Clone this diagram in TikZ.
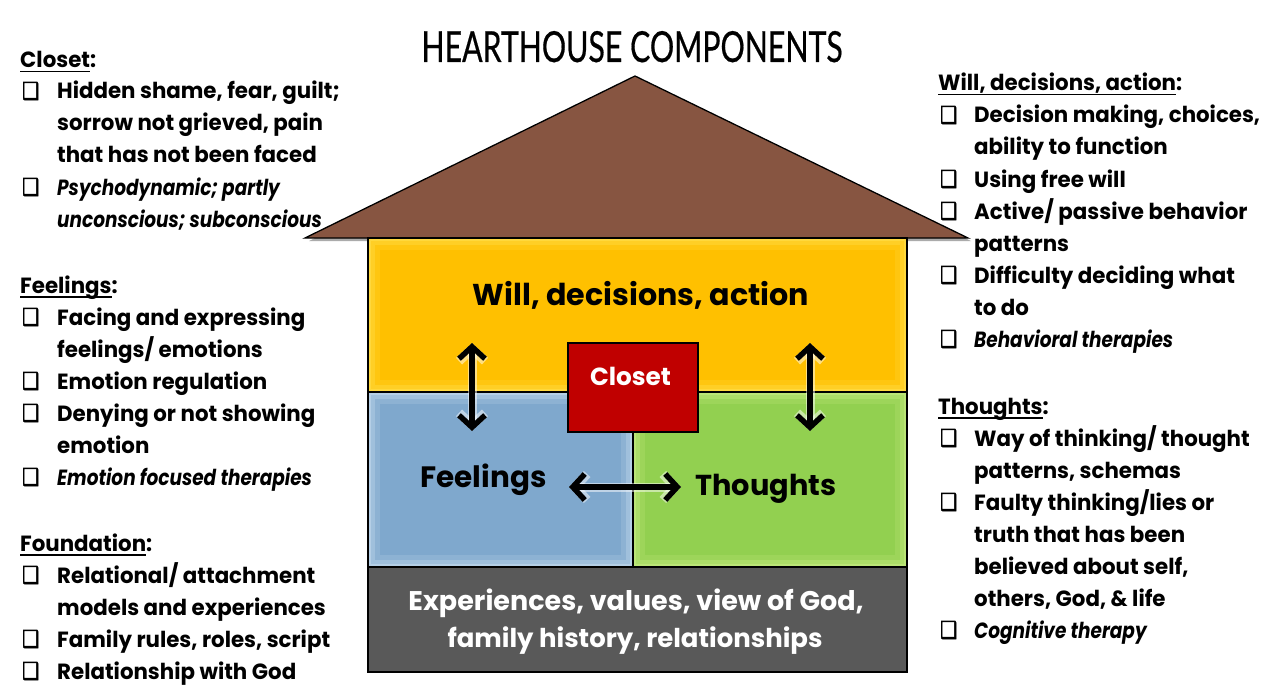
\documentclass[tikz,border=0pt]{standalone}
\usepackage{fontspec}
\setmainfont{Poppins}[FakeStretch=0.97]
\newfontfamily\itfam{Poppins}[FakeStretch=0.84]
\newfontfamily\lblfam{Poppins}
\newfontfamily\titlefont{Lato}[FakeBold=0.6]
\newfontfamily\symfont{DejaVu Sans}[FakeBold=2.5]
\usepackage{graphicx}
\usetikzlibrary{arrows.meta}
\definecolor{roofc}{HTML}{875541}
\definecolor{willc}{HTML}{FFC000}
\definecolor{willg}{HTML}{FFE45A}
\definecolor{feelc}{HTML}{7FA8CD}
\definecolor{feelg}{HTML}{CFE2F3}
\definecolor{thouc}{HTML}{92D050}
\definecolor{thoug}{HTML}{CFF08A}
\definecolor{foundc}{HTML}{595959}
\definecolor{closc}{HTML}{C00000}
\newcommand\bodyfont{\fontsize{22}{32}\selectfont\bfseries}
\newcommand\bodyit{\fontsize{22}{32}\selectfont\itfam\bfseries\itshape}
\newcommand\chkfont{\fontsize{20}{32}\selectfont\symfont}
\newcommand\hul[1]{\setbox0\hbox{#1}\rlap{\rule[-4.5pt]{\wd0}{1.8pt}}\box0}
\newcommand\cbx{\resizebox{17pt}{17pt}{❑}}
\tikzset{
  txt/.style={anchor=base west, inner sep=0, font=\bodyfont},
  itx/.style={anchor=base west, inner sep=0, font=\bodyit},
  chk/.style={anchor=base west, inner sep=0, font=\chkfont},
  lbl/.style={anchor=base, inner sep=0, font=\fontsize{20}{24}\selectfont\lblfam\bfseries},
  part/.style={draw=black, line width=1.8pt},
  arr/.style={{Straight Barb[length=12pt,width=26pt]}-{Straight Barb[length=12pt,width=26pt]}, line width=5.5pt,
     preaction={draw=white, line width=9pt, opacity=0.5}}
}
\newcommand\inglow[5]{% color, x1,y1,x2,y2
  \draw[#1, line width=12pt, opacity=0.18] (#2+6,#3+6) rectangle (#4-6,#5-6);
  \draw[#1, line width=7pt, opacity=0.3] (#2+3.5,#3+3.5) rectangle (#4-3.5,#5-3.5);
  \draw[#1, line width=3pt, opacity=0.45] (#2+1.5,#3+1.5) rectangle (#4-1.5,#5-1.5);
}
\begin{document}
\begin{tikzpicture}[x=1pt,y=-1pt]
\useasboundingbox[fill=white] (0,0) rectangle (1275,690);
% title
\node[anchor=base, inner sep=0] (title) at (632,62) {\resizebox{421pt}{31pt}{\titlefont HEARTHOUSE COMPONENTS}};
% roof
\fill[black!55, opacity=0.6] (309,241) -- (637,79) -- (971,241) -- cycle;
\draw[fill=roofc, line width=1.3pt, line join=miter] (305,238) -- (635,76) -- (968,238) -- cycle;
% house parts
\fill[willc] (368,238) rectangle (907,392);
\inglow{willg}{368}{238}{907}{392}
\fill[feelc] (368,392) rectangle (633,567);
\inglow{feelg}{368}{392}{633}{567}
\fill[thouc] (633,392) rectangle (907,567);
\inglow{thoug}{633}{392}{907}{567}
\draw[part] (368,238) rectangle (907,392);
\draw[part] (368,392) rectangle (633,567);
\draw[part] (633,392) rectangle (907,567);
\draw[part, fill=foundc] (368,567) rectangle (907,672);
\draw[part, fill=closc] (568,343) rectangle (698,432);
% labels in house
\node[lbl] (willt) at (641,305) {\resizebox{336pt}{!}{Will, decisions, action}};
\node[lbl, text=white] (clost) at (630.5,385) {\resizebox{81pt}{!}{Closet}};
\node[lbl] (feelt) at (483.5,487) {\resizebox{126pt}{!}{Feelings}};
\node[lbl] (thout) at (766,495) {\resizebox{141pt}{!}{Thoughts}};
\node[lbl, text=white] (found1) at (636,610) {\resizebox{455pt}{!}{Experiences, values, view of God,}};
\node[lbl, text=white] (found2) at (635,647) {\resizebox{375pt}{!}{family history, relationships}};
% arrows
\coordinate (a1t) at (472,343); \coordinate (a1b) at (472,431);
\coordinate (a2t) at (810,343); \coordinate (a2b) at (810,431);
\coordinate (a3l) at (569,487); \coordinate (a3r) at (681,487);
\draw[arr] (a1t) -- (a1b);
\draw[arr] (a2t) -- (a2b);
\draw[arr] (a3l) -- (a3r);
% left column
\node[txt] (c0) at (20,68) {\hul{Closet}:};
\node[chk] (c1b) at (22,99) {\cbx};
\node[txt] (c1) at (57,99) {Hidden shame, fear, guilt;};
\node[txt] (c1x) at (57,131) {sorrow not grieved, pain};
\node[txt] (c1y) at (57,163) {that has not been faced};
\node[chk] (c2b) at (22,195) {\cbx};
\node[itx] (c2) at (57,195) {Psychodynamic; partly};
\node[itx] (c2x) at (57,227) {unconscious; subconscious};

\node[txt] (f0) at (20,293) {\hul{Feelings}:};
\node[chk] (f1b) at (22,325) {\cbx};
\node[txt] (f1) at (57,325) {Facing and expressing};
\node[txt] (f1x) at (57,357) {feelings/ emotions};
\node[chk] (f2b) at (22,389) {\cbx};
\node[txt] (f2) at (57,389) {Emotion regulation};
\node[chk] (f3b) at (22,421) {\cbx};
\node[txt] (f3) at (57,421) {Denying or not showing};
\node[txt] (f3x) at (57,453) {emotion};
\node[chk] (f4b) at (22,485) {\cbx};
\node[itx] (f4) at (57,485) {Emotion focused therapies};

\node[txt] (d0) at (20,551) {\hul{Foundation}:};
\node[chk] (d1b) at (22,583) {\cbx};
\node[txt] (d1) at (57,583) {Relational/ attachment};
\node[txt] (d1x) at (57,615) {models and experiences};
\node[chk] (d2b) at (22,647) {\cbx};
\node[txt] (d2) at (57,647) {Family rules, roles, script};
\node[chk] (d3b) at (22,679) {\cbx};
\node[txt] (d3) at (57,679) {Relationship with God};
% right column
\node[txt] (w0) at (938,91) {\hul{Will, decisions, action}:};
\node[chk] (w1b) at (940,123) {\cbx};
\node[txt] (w1) at (974,123) {Decision making, choices,};
\node[txt] (w1x) at (974,155) {ability to function};
\node[chk] (w2b) at (940,187) {\cbx};
\node[txt] (w2) at (974,187) {Using free will};
\node[chk] (w3b) at (940,219) {\cbx};
\node[txt] (w3) at (974,219) {Active/ passive behavior};
\node[txt] (w3x) at (974,251) {patterns};
\node[chk] (w4b) at (940,283) {\cbx};
\node[txt] (w4) at (974,283) {Difficulty deciding what};
\node[txt] (w4x) at (974,315) {to do};
\node[chk] (w5b) at (940,347) {\cbx};
\node[itx] (w5) at (974,347) {Behavioral therapies};

\node[txt] (t0) at (938,414) {\hul{Thoughts}:};
\node[chk] (t1b) at (940,446) {\cbx};
\node[txt] (t1) at (974,446) {Way of thinking/ thought};
\node[txt] (t1x) at (974,478) {patterns, schemas};
\node[chk] (t2b) at (940,510) {\cbx};
\node[txt] (t2) at (974,510) {Faulty thinking/lies or};
\node[txt] (t2x) at (974,542) {truth that has been};
\node[txt] (t2y) at (974,574) {believed about self,};
\node[txt] (t2z) at (974,606) {others, God, \& life};
\node[chk] (t3b) at (940,638) {\cbx};
\node[itx] (t3) at (974,638) {Cognitive therapy};
\end{tikzpicture}
\end{document}
